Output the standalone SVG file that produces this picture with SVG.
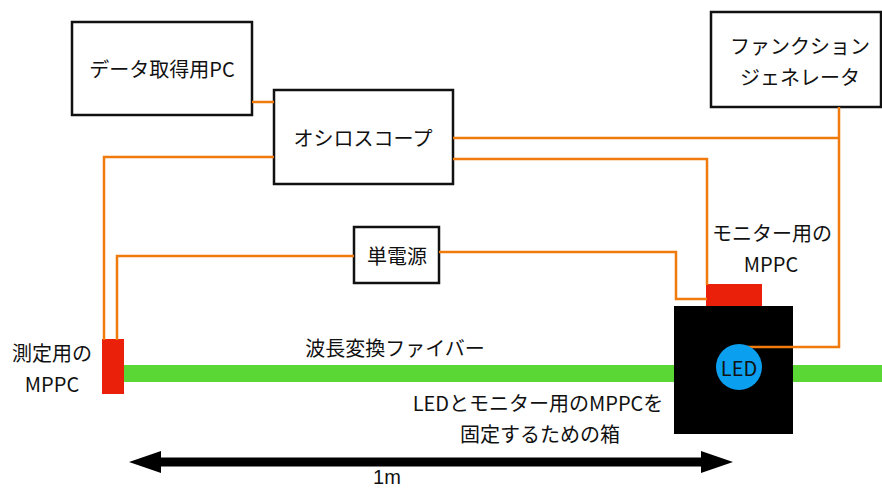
<svg xmlns="http://www.w3.org/2000/svg" width="882" height="490" viewBox="0 0 882 490">
<style>
text{font-family:"Noto Sans CJK JP","Noto Sans",sans-serif;font-size:20px;fill:#111;text-anchor:middle;dominant-baseline:central}
.box{fill:#fff;stroke:#111;stroke-width:2.5}
.wire{fill:none;stroke:#f07a0c;stroke-width:2.5}
.mppc{fill:#ea200b}
</style>
<rect width="882" height="490" fill="#fff"/>
<rect id="fiber" x="120" y="365" width="762" height="17" fill="#5ad635"/>
<g id="pc"><rect class="box" x="72" y="22" width="180" height="93"/><text x="162" y="68">データ取得用PC</text></g>
<g id="oscilloscope"><rect class="box" x="274" y="90" width="179" height="94"/><text x="363" y="137">オシロスコープ</text></g>
<g id="function-generator"><rect class="box" x="711" y="12" width="170" height="95"/><text x="800" y="45">ファンクション</text><text x="800" y="76">ジェネレータ</text></g>
<g id="power"><rect class="box" x="354" y="227" width="85" height="56"/><text x="397" y="255">単電源</text></g>
<g id="measure-mppc"><rect class="mppc" x="102" y="339" width="22" height="55"/><text x="52" y="352">測定用の</text><text x="52" y="383">MPPC</text></g>
<g id="fiber-label"><text x="395" y="347">波長変換ファイバー</text></g>
<g id="box"><rect x="674" y="306" width="119" height="128" fill="#000"/><text x="538" y="402">LEDとモニター用のMPPCを</text><text x="540" y="433">固定するための箱</text></g>
<g id="monitor-mppc"><rect class="mppc" x="706" y="284" width="56" height="22"/><text x="772" y="232">モニター用の</text><text x="771" y="263">MPPC</text></g>
<g id="connectors">
<path class="wire" d="M252,102 H274"/>
<path class="wire" d="M274,157 H104 V340"/>
<path class="wire" d="M354,256 H117 V340"/>
<path class="wire" d="M439,252 H676 V299 H707"/>
<path class="wire" d="M453,138 H839"/>
<path class="wire" d="M839,107 V347 H740"/>
<path class="wire" d="M453,159 H707 V285"/>
</g>
<g id="led"><circle cx="739" cy="367" r="23" fill="#0aa0ef"/><text x="739" y="367" font-size="21">LED</text></g>
<g id="scale"><path d="M129,462 L161,451 V457.5 H701 V451 L733,462 L701,473 V466.5 H161 V473 Z" fill="#000"/><text x="387" y="477" font-size="19" style="font-family:'Liberation Sans','Noto Sans',sans-serif">1m</text></g>
</svg>
